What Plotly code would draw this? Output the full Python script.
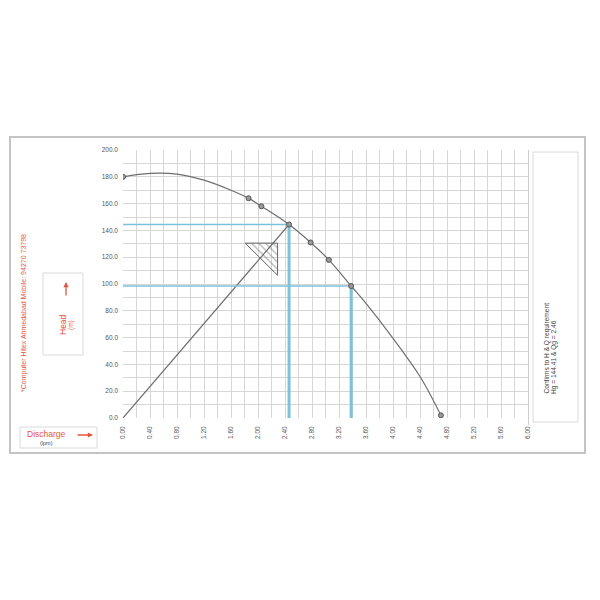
import plotly.graph_objects as go

# ---- data ----
curve_q = [0.0, 0.4, 0.8, 1.2, 1.6, 1.86, 2.05, 2.46, 2.78, 3.05, 3.38, 3.6, 4.0, 4.4, 4.71]
curve_h = [180.0, 182.5, 182.0, 177.5, 170.0, 164.0, 158.0, 144.4, 131.0, 118.0, 98.5, 85.5, 59.5, 31.0, 2.0]
marker_q = [0.0, 1.86, 2.05, 2.46, 2.78, 3.05, 3.38, 4.71]
marker_h = [180.0, 164.0, 158.0, 144.4, 131.0, 118.0, 98.5, 2.0]
Qg, Hg = 2.46, 144.41
Qr, Hr = 3.38, 98.5
tri_q = [1.81, 2.29, 2.29, 1.81]
tri_h = [130.5, 130.5, 106.5, 130.5]
x_ticks = [0.0, 0.4, 0.8, 1.2, 1.6, 2.0, 2.4, 2.8, 3.2, 3.6, 4.0, 4.4, 4.8, 5.2, 5.6, 6.0]
y_ticks = [0, 20, 40, 60, 80, 100, 120, 140, 160, 180, 200]

# ---- pixel layout helpers (reference page pixels; page has an 8px body margin) ----
OFF = 8
L, R, T, B = 123, 528, 150, 418
W, H = R - L, B - T
def px(x):
    return (x - L) / W
def py(y):
    return (B - y) / H

RED = "#e2553f"
BLUE = "#7cc2da"
GRAY = "#6e6e6e"

fig = go.Figure()

# system line
fig.add_trace(go.Scatter(x=[0, Qg], y=[0, Hg], mode="lines",
                         line=dict(color=GRAY, width=1.2), hoverinfo="skip"))
# hatched triangle
fig.add_trace(go.Scatter(x=tri_q, y=tri_h, mode="lines", fill="toself",
                         fillcolor="rgba(0,0,0,0)",
                         fillpattern=dict(shape="\\", fgcolor="#666", bgcolor="rgba(0,0,0,0)",
                                          size=5, solidity=0.25),
                         line=dict(color="#666", width=1), hoverinfo="skip"))
# blue guide lines
fig.add_trace(go.Scatter(x=[0, Qg], y=[Hg, Hg], mode="lines", line=dict(color=BLUE, width=1.6)))
fig.add_trace(go.Scatter(x=[Qg, Qg], y=[0, Hg], mode="lines", line=dict(color=BLUE, width=3)))
fig.add_trace(go.Scatter(x=[0, Qr], y=[Hr, Hr], mode="lines", line=dict(color=BLUE, width=1.6)))
fig.add_trace(go.Scatter(x=[Qr, Qr], y=[0, Hr], mode="lines", line=dict(color=BLUE, width=3)))
# pump curve
fig.add_trace(go.Scatter(x=curve_q, y=curve_h, mode="lines", line=dict(color=GRAY, width=1.2, shape="spline")))
fig.add_trace(go.Scatter(x=marker_q, y=marker_h, mode="markers",
                         marker=dict(size=5, color="#9a9a9a", line=dict(color="#555", width=1))))

shapes = [
    dict(type="rect", xref="paper", yref="paper", x0=px(10), x1=px(585), y0=py(453), y1=py(137),
         line=dict(color="#c4c4c4", width=2), layer="below"),
    dict(type="rect", xref="paper", yref="paper", x0=px(533), x1=px(578), y0=py(422), y1=py(152),
         line=dict(color="#dadada", width=1), layer="below"),
    dict(type="line", xref="paper", yref="paper", x0=px(528.5), x1=px(528.5), y0=py(425), y1=py(150),
         line=dict(color="#cfcfcf", width=1), layer="below"),
    dict(type="rect", xref="paper", yref="paper", x0=px(43), x1=px(83), y0=py(355), y1=py(273),
         line=dict(color="#dadada", width=1), layer="below"),
    dict(type="rect", xref="paper", yref="paper", x0=px(20), x1=px(97), y0=py(448), y1=py(427),
         line=dict(color="#dadada", width=1), layer="below"),
]

ann = [
    dict(text="*Computer Hitex Ahmedabad Mobile: 94270 73798", x=px(24), y=py(313), textangle=-90,
         font=dict(size=7, color=RED)),
    dict(text="Head", x=px(63), y=py(325), textangle=-90, font=dict(size=8.5, color=RED)),
    dict(text="(m)", x=px(71), y=py(325), textangle=-90, font=dict(size=6.5, color=RED)),
    dict(text="", x=px(66), y=py(282), ax=0, ay=15, axref="pixel", ayref="pixel",
         showarrow=True, arrowhead=2, arrowsize=0.8, arrowwidth=1.3, arrowcolor=RED),
    dict(text="Discharge", x=px(46), y=py(434), font=dict(size=8.5, color=RED)),
    dict(text="", x=px(93), y=py(435), ax=-17, ay=0, axref="pixel", ayref="pixel",
         showarrow=True, arrowhead=2, arrowsize=0.8, arrowwidth=1.3, arrowcolor=RED),
    dict(text="(lpm)", x=px(46), y=py(443), font=dict(size=5.5, color="#444")),
    dict(text="Confirms to H & Q requirement", x=px(546), y=py(396), textangle=-90,
         yanchor="bottom", font=dict(size=6.6, color="#444")),
    dict(text="Hg = 144.41 & Qg = 2.46", x=px(554), y=py(396), textangle=-90,
         yanchor="bottom", font=dict(size=6.6, color="#444")),
]
for a in ann:
    a.setdefault("xref", "paper")
    a.setdefault("yref", "paper")
    a.setdefault("showarrow", False)
    a.setdefault("xanchor", "center")
    a.setdefault("yanchor", "middle")

fig.update_layout(
    width=600, height=600,
    margin=dict(l=L - OFF, r=600 - (R - OFF), t=T - OFF, b=600 - (B - OFF)),
    paper_bgcolor="white", plot_bgcolor="white",
    showlegend=False,
    shapes=shapes, annotations=ann,
    font=dict(family="Liberation Sans, Arial, sans-serif"),
    xaxis=dict(range=[0, 6], tickvals=x_ticks, ticktext=[f"{v:.2f}" for v in x_ticks],
               tickangle=-90, tickfont=dict(size=6.5, color="#555"),
               showgrid=True, gridcolor="#d6d6d6", gridwidth=1, zeroline=False,
               minor=dict(dtick=0.2, showgrid=True, gridcolor="#d6d6d6", gridwidth=1),
               ticklabelstandoff=6, showline=False, fixedrange=True),
    yaxis=dict(range=[0, 200], tickvals=y_ticks, ticktext=[f"{v:.1f}" for v in y_ticks],
               tickfont=dict(size=6.5, color="#555"),
               showgrid=True, gridcolor="#d6d6d6", gridwidth=1, zeroline=False,
               minor=dict(dtick=10, showgrid=True, gridcolor="#d6d6d6", gridwidth=1),
               ticklabelstandoff=4, showline=False, fixedrange=True),
)

fig.write_html("out.html")
